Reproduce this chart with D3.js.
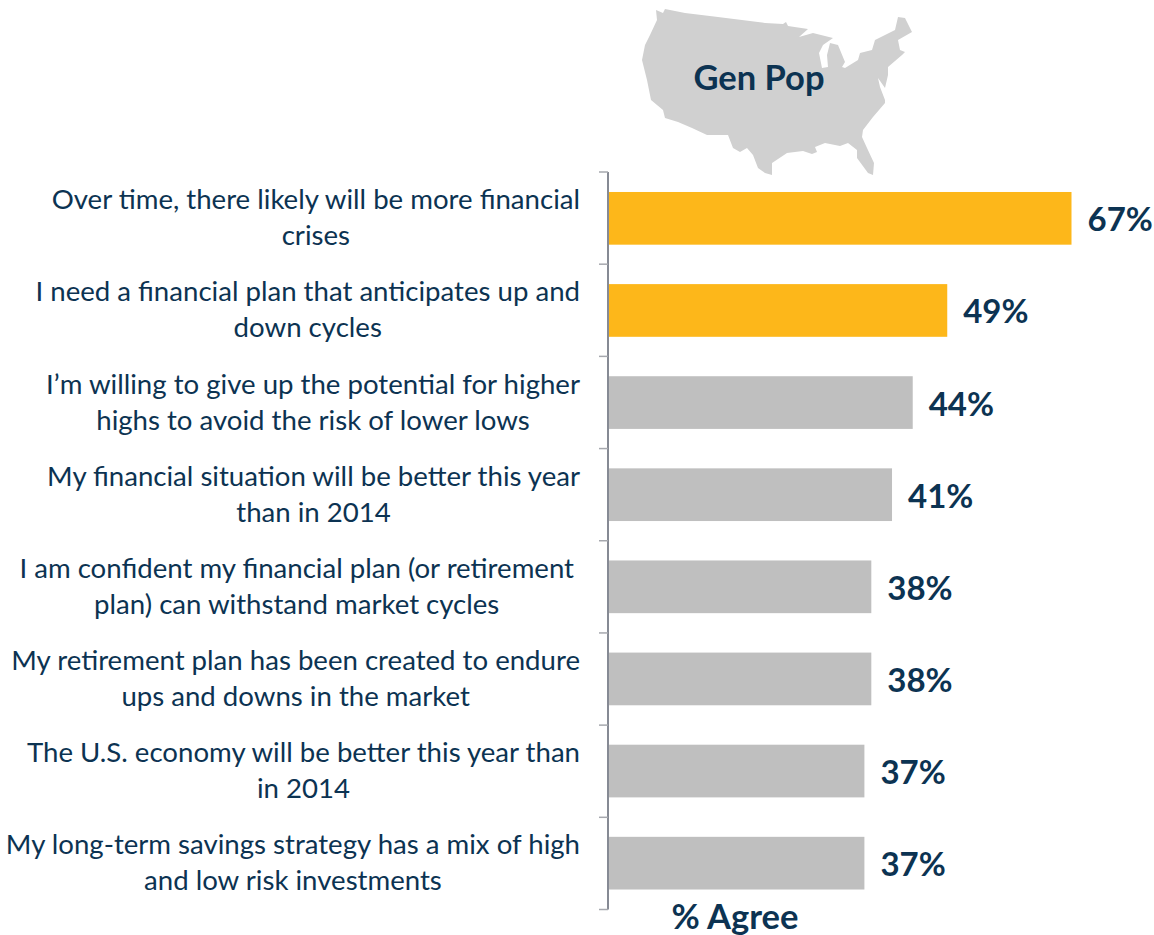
<!DOCTYPE html>
<html lang="en">
<head>
<meta charset="UTF-8">
<title>Gen Pop - % Agree</title>
<script src="https://d3js.org/d3.v7.min.js"></script>
<style>
  html, body { margin: 0; padding: 0; background: #fff; }
  svg { display: block; }
  text { font-family: Lato, "Open Sans", sans-serif; fill: #0c3352; }
  .label { font-size: 27.6px; }
  .value { font-size: 33px; font-weight: 700; }
  .title { font-size: 34.5px; font-weight: 700; }
</style>
</head>
<body>
<script>
// Statements, two lines each as wrapped in the original
const statements = [
  ["Over time, there likely will be more financial", "crises"],
  ["I need a financial plan that anticipates up and", "down cycles"],
  ["I\u2019m willing to give up the potential for higher", "highs to avoid the risk of lower lows"],
  ["My financial situation will be better this year", "than in 2014"],
  ["I am confident my financial plan (or retirement", "plan) can withstand market cycles"],
  ["My retirement plan has been created to endure", "ups and downs in the market"],
  ["The U.S. economy will be better this year than", "in 2014"],
  ["My long-term savings strategy has a mix of high", "and low risk investments"]
];
const agree = [67, 49, 44, 41, 38, 38, 37, 37];
const highlighted = [0, 1];

// US outline, clockwise from the north-west corner
const mapOutline = [
  [656,10],[663,13],[665,9],[685,13],[718,17],[765,23],[783,24],[786,22],[788,26],[808,29],
  [799,37],[813,33],[833,38],[823,45],[819,53],[822,68],[828,67],[827,55],[830,43],[838,45],
  [845,62],[842,67],[845,68],[858,60],[860,53],[872,50],[875,40],[895,30],[898,17],[905,18],
  [912,32],[898,40],[900,50],[905,52],[902,55],[888,67],[888,75],[885,88],[878,78],[880,87],
  [885,100],[885,103],[873,117],[863,130],[862,137],[867,148],[874,163],[873,175],[868,173],
  [857,158],[857,150],[848,143],[840,146],[825,143],[815,147],[817,152],[812,154],[803,151],
  [787,153],[772,163],[772,175],[765,173],[758,168],[753,155],[747,148],[740,152],[733,148],
  [728,135],[707,135],[692,128],[678,122],[665,118],[663,110],[651,100],[647,80],[642,60],
  [645,45],[650,35],[657,20]
];

const width = 1154, height = 935;
const axisX = 608, axisTop = 172, axisBottom = 909.5;

const svg = d3.select("body").append("svg")
  .attr("width", width)
  .attr("height", height);

// Map behind the heading
svg.append("path")
  .attr("d", d3.line().curve(d3.curveLinearClosed)(mapOutline))
  .attr("fill", "#d0d0d0");

svg.append("text")
  .attr("class", "title")
  .attr("x", 759)
  .attr("y", 90)
  .attr("text-anchor", "middle")
  .text("Gen Pop");

// Scales
const x = d3.scaleLinear().domain([0, 67]).range([axisX + 1, 1071.5]);
const y = d3.scaleBand()
  .domain(d3.range(statements.length))
  .range([axisTop, axisBottom])
  .paddingInner(0.428)
  .paddingOuter(0.217);
const band = d3.scaleBand()
  .domain(d3.range(statements.length))
  .range([axisTop, axisBottom]);

// Bars
svg.selectAll(".bar")
  .data(agree)
  .enter().append("rect")
  .attr("class", "bar")
  .attr("x", x(0))
  .attr("y", (d, i) => y(i))
  .attr("width", d => x(d) - x(0))
  .attr("height", y.bandwidth())
  .attr("fill", (d, i) => highlighted.includes(i) ? "#fdb71a" : "#bfbfbf");

// Value labels
svg.selectAll(".value")
  .data(agree)
  .enter().append("text")
  .attr("class", "value")
  .attr("x", d => x(d) + 16)
  .attr("y", (d, i) => y(i) + y.bandwidth() / 2 + 13)
  .text(d => d + "%");

// Axis line with ticks on the band edges
svg.append("path")
  .attr("d", `M${axisX},${axisTop}V${axisBottom}`)
  .attr("stroke", "#868a94")
  .attr("stroke-width", 2)
  .attr("fill", "none");
svg.selectAll(".tick")
  .data(d3.range(statements.length + 1))
  .enter().append("line")
  .attr("class", "tick")
  .attr("x1", axisX - 9)
  .attr("x2", axisX)
  .attr("y1", i => i < statements.length ? band(i) : axisBottom)
  .attr("y2", i => i < statements.length ? band(i) : axisBottom)
  .attr("stroke", "#a6a8ae")
  .attr("stroke-width", 1.5);

// Statement labels: each block centred, widest line ending at the right edge
const labels = svg.selectAll(".label")
  .data(statements)
  .enter().append("text")
  .attr("class", "label")
  .attr("text-anchor", "middle");
labels.each(function(lines, i) {
  const t = d3.select(this);
  const spans = lines.map((line, k) => t.append("tspan")
    .attr("y", y(i) + y.bandwidth() / 2 + (k === 0 ? -9 : 27))
    .text(line));
  const widest = d3.max(spans, s => s.node().getComputedTextLength());
  const right = i === 4 ? 574 : 580;
  spans.forEach(s => s.attr("x", right - widest / 2));
});

svg.append("text")
  .attr("class", "title")
  .attr("x", 735)
  .attr("y", 929)
  .attr("text-anchor", "middle")
  .text("% Agree");
</script>
</body>
</html>
